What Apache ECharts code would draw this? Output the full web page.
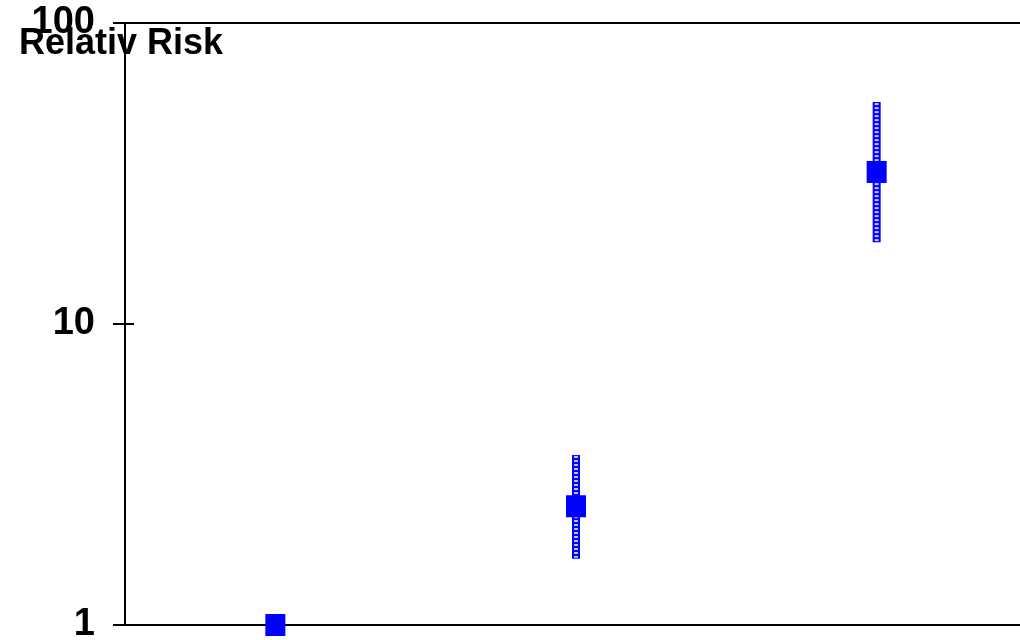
<!DOCTYPE html>
<html>
<head>
<meta charset="utf-8">
<script src="https://cdn.jsdelivr.net/npm/echarts@6/dist/echarts.min.js"></script>
<style>html,body{margin:0;padding:0;background:#fff;}#c{width:1020px;height:640px;}</style>
</head>
<body>
<div id="c"></div>
<script>
var categories = ['1', '2', '3'];
var riskValues = [1.0, 2.48, 32.0];
var lowerCI = [null, 1.66, 18.7];
var upperCI = [null, 3.67, 54.6];
var yTicks = [1, 10, 100];
var titleText = 'Relativ Risk';

var chart = echarts.init(document.getElementById('c'), null, {renderer: 'canvas'});
var font = 'Arial, "Liberation Sans", Helvetica, sans-serif';

var errData = categories.map(function (c, i) {
  return lowerCI[i] == null ? null : [i, lowerCI[i], upperCI[i]];
}).filter(function (d) { return d; });

chart.setOption({
  animation: false,
  backgroundColor: '#fff',
  title: {
    text: titleText,
    left: 14,
    top: 21,
    textStyle: {fontFamily: font, fontWeight: 'bold', fontSize: 36, color: '#000'}
  },
  grid: {left: 125, width: 902, top: 23, height: 602, containLabel: false, outerBoundsMode: 'none'},
  xAxis: [{
    type: 'category',
    data: categories,
    boundaryGap: true,
    axisLine: {show: true, lineStyle: {color: '#000', width: 2}},
    axisTick: {show: false},
    axisLabel: {show: false},
    splitLine: {show: false}
  }, {
    type: 'category',
    data: categories,
    position: 'top',
    boundaryGap: true,
    axisLine: {show: true, onZero: false, lineStyle: {color: '#000', width: 2}},
    axisTick: {show: false},
    axisLabel: {show: false},
    splitLine: {show: false}
  }],
  yAxis: [{
    type: 'log',
    logBase: 10,
    min: yTicks[0],
    max: yTicks[yTicks.length - 1],
    axisLine: {show: true, lineStyle: {color: '#000', width: 2}},
    axisTick: {show: true, inside: false, length: 12, lineStyle: {color: '#000', width: 2}},
    axisLabel: {
      show: true, margin: 30,
      fontFamily: font, fontWeight: 'bold', fontSize: 38, color: '#000',
      verticalAlign: 'middle', padding: [8, 0, 0, 0],
      formatter: function (v) { return yTicks.indexOf(Math.round(v)) >= 0 ? String(Math.round(v)) : ''; }
    },
    splitLine: {show: false}
  }, {
    type: 'log',
    logBase: 10,
    min: yTicks[0],
    max: yTicks[yTicks.length - 1],
    position: 'left',
    axisLine: {show: false},
    axisTick: {show: true, inside: true, length: 9, lineStyle: {color: '#000', width: 2}},
    axisLabel: {show: false},
    splitLine: {show: false}
  }],
  series: [{
    type: 'custom',
    xAxisIndex: 0,
    yAxisIndex: 0,
    z: 2,
    data: errData,
    renderItem: function (params, api) {
      var x = api.value(0);
      var lo = api.coord([x, api.value(1)]);
      var hi = api.coord([x, api.value(2)]);
      var w = 8;
      return {
        type: 'group',
        children: [{
          type: 'rect',
          shape: {x: lo[0] - w / 2, y: hi[1], width: w, height: lo[1] - hi[1]},
          style: {fill: '#0000ff'}
        }, {
          type: 'line',
          shape: {x1: lo[0], y1: hi[1] + 1, x2: lo[0], y2: lo[1] - 1},
          style: {stroke: '#c4c4ff', lineWidth: 4, lineDash: [2, 2]}
        }]
      };
    }
  }, {
    type: 'scatter',
    xAxisIndex: 0,
    yAxisIndex: 0,
    z: 3,
    symbol: 'rect',
    symbolSize: [20, 22],
    itemStyle: {color: '#0000ff', opacity: 1},
    data: riskValues
  }]
});
</script>
</body>
</html>
